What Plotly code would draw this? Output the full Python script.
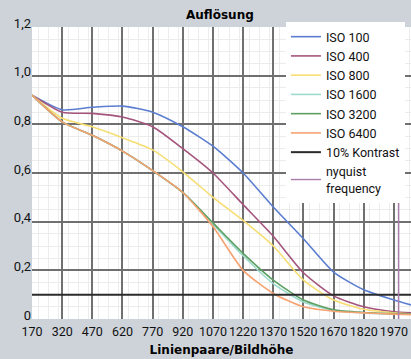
import plotly.graph_objects as go

x = [170, 320, 470, 620, 770, 920, 1070, 1220, 1370, 1520, 1670, 1820, 1970, 2055]
iso100 = [0.92, 0.86, 0.87, 0.875, 0.85, 0.79, 0.71, 0.60, 0.46, 0.33, 0.193, 0.12, 0.078, 0.058]
iso400 = [0.92, 0.85, 0.845, 0.83, 0.79, 0.70, 0.60, 0.47, 0.34, 0.19, 0.095, 0.05, 0.03, 0.025]
iso800 = [0.92, 0.825, 0.79, 0.745, 0.695, 0.605, 0.50, 0.405, 0.30, 0.16, 0.078, 0.04, 0.025, 0.02]
iso1600 = [0.92, 0.81, 0.755, 0.69, 0.61, 0.52, 0.39, 0.26, 0.145, 0.07, 0.035, 0.025, 0.02, 0.02]
iso3200 = [0.92, 0.81, 0.755, 0.69, 0.61, 0.52, 0.395, 0.27, 0.16, 0.078, 0.038, 0.027, 0.022, 0.02]
iso6400 = [0.92, 0.81, 0.755, 0.69, 0.61, 0.52, 0.38, 0.20, 0.105, 0.05, 0.032, 0.025, 0.02, 0.018]
kontrast = 0.1
nyquist_x = 1993

xticks = [170, 320, 470, 620, 770, 920, 1070, 1220, 1370, 1520, 1670, 1820, 1970]
yticks = [0, 0.2, 0.4, 0.6, 0.8, 1.0, 1.2]
ylabels = ["0", "0,2", "0,4", "0,6", "0,8", "1,0", "1,2"]

series = [
    ("ISO 100", iso100, "#5b7dd0"),
    ("ISO 400", iso400, "#a4547c"),
    ("ISO 800", iso800, "#f6de72"),
    ("ISO 1600", iso1600, "#9ddacb"),
    ("ISO 3200", iso3200, "#5c9f62"),
    ("ISO 6400", iso6400, "#f7a271"),
]

fig = go.Figure()
for name, ys, col in series:
    fig.add_trace(go.Scatter(x=x, y=ys, name=name, mode="lines",
                             line=dict(color=col, width=1.6, shape="spline", smoothing=0.6)))
fig.add_trace(go.Scatter(x=[x[0], x[-1]], y=[kontrast, kontrast], name="10% Kontrast",
                         mode="lines", line=dict(color="#2b2b2b", width=2)))
fig.add_trace(go.Scatter(x=[nyquist_x, nyquist_x], y=[0, 1.2], name="nyquist<br>frequency",
                         mode="lines", line=dict(color="#a87cab", width=1.4)))

fig.update_layout(
    width=411, height=359,
    paper_bgcolor="#ced3da", plot_bgcolor="#ffffff",
    margin=dict(l=31.5, r=0, t=27, b=40, autoexpand=False),
    title=dict(text="Auflösung", x=0.535, xanchor="center", y=0.958, yanchor="middle",
               font=dict(family="DejaVu Sans", size=12, color="#000000", weight="bold")),
    font=dict(family="Roboto", size=13, color="#111111"),
    showlegend=True,
    legend=dict(x=0.67, y=1.017, xanchor="left", yanchor="top", bgcolor="#ffffff",
                borderwidth=0, font=dict(family="Roboto", size=12.5, color="#111111"),
                tracegroupgap=0, itemwidth=30, maxheight=320),
    xaxis=dict(range=[170, 2055], tickvals=xticks, ticktext=[str(v) for v in xticks],
               tickangle=0, automargin=False, ticklabelstandoff=3,
               showgrid=True, gridcolor="#707070", gridwidth=1.5,
               minor=dict(dtick=50, showgrid=True, gridcolor="#ececec", gridwidth=1),
               zeroline=False, showline=False, ticks="",
               tickfont=dict(family="Roboto", size=12.5),
               title=dict(text="Linienpaare/Bildhöhe", standoff=8,
                          font=dict(family="DejaVu Sans", size=12, color="#000000", weight="bold"))),
    yaxis=dict(range=[0, 1.2], tickvals=yticks, ticktext=ylabels, automargin=False,
               ticklabelshift=-4,
               showgrid=True, gridcolor="#707070", gridwidth=1.5,
               minor=dict(dtick=0.05, showgrid=True, gridcolor="#ececec", gridwidth=1),
               zeroline=False, showline=False, ticks="",
               tickfont=dict(family="Roboto", size=13)),
)

fig.write_html("out.html", config={"displayModeBar": False},
               post_script="document.body.style.margin='0';document.body.style.overflow='hidden';"
                           "document.documentElement.style.overflow='hidden';"
                           "document.body.style.background='#ced3da';")
